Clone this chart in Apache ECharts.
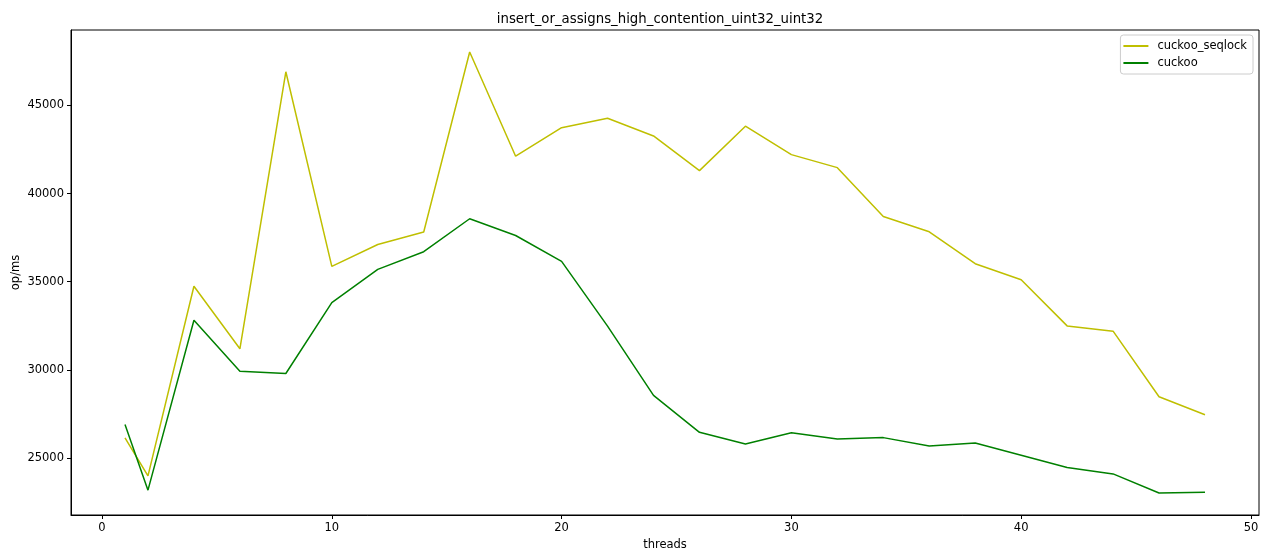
<!DOCTYPE html>
<html>
<head>
<meta charset="utf-8">
<title>insert_or_assigns_high_contention_uint32_uint32</title>
<script src="https://cdn.jsdelivr.net/npm/echarts@6/dist/echarts.min.js"></script>
<style>
  html, body { margin: 0; padding: 0; background: #fff; }
  #chart { width: 1273px; height: 556px; }
</style>
</head>
<body>
<div id="chart"></div>
<script>
// Thread counts on the x axis
const threads = [1, 2, 4, 6, 8, 10, 12, 14, 16, 18, 20, 22, 24, 26, 28, 30, 32, 34, 36, 38, 40, 42, 44, 46, 48];

// Throughput (op/ms) per implementation
const cuckooSeqlock = [26130, 23980, 34740, 31190, 46910, 35870, 37110, 37820, 48030, 42120,
  43740, 44270, 43270, 41300, 43820, 42210, 41470, 38700, 37830, 36020, 35110, 32490, 32190, 28470, 27450];
const cuckoo = [26890, 23170, 32810, 29920, 29790, 33810, 35700, 36700, 38570, 37620,
  36150, 32480, 28550, 26450, 25790, 26430, 26070, 26150, 25670, 25840, 25150, 24450, 24090, 23010, 23050];

// Tick positions
const xTicks = [0, 10, 20, 30, 40, 50];
const yTicks = [25000, 30000, 35000, 40000, 45000];

const seriesNames = ['cuckoo_seqlock', 'cuckoo'];
const seriesColors = ['#bfbf00', '#008000'];

// Axis bounds padded by 5% of the data span on each side
function padded(values) {
  const lo = Math.min(...values), hi = Math.max(...values);
  const m = (hi - lo) * 0.05;
  return [lo - m, hi + m];
}
const [xMin, xMax] = padded(threads);
const [yMin, yMax] = padded(cuckooSeqlock.concat(cuckoo));

const font = 'DejaVu Sans';
const labelSize = 11.5;
const chart = echarts.init(document.getElementById('chart'), null, { renderer: 'canvas' });

const axisCommon = {
  type: 'value',
  splitLine: { show: false },
  axisLine: { show: true, onZero: false, lineStyle: { color: '#000', width: 1 } },
  axisTick: { show: true, inside: false, length: 4, lineStyle: { color: '#000', width: 1 } },
  axisLabel: { color: '#000', fontFamily: font, fontSize: labelSize, margin: 7,
    formatter: v => String(Math.round(v)) },
  nameLocation: 'middle',
  nameTextStyle: { color: '#000', fontFamily: font, fontSize: labelSize }
};

chart.setOption({
  animation: false,
  backgroundColor: '#fff',
  title: {
    text: 'insert_or_assigns_high_contention_uint32_uint32',
    left: 655, top: 8, textAlign: 'center',
    textStyle: { color: '#000', fontFamily: font, fontSize: 13.3, fontWeight: 'normal' }
  },
  grid: {
    left: 71, right: 14, top: 30, bottom: 41,
    outerBoundsMode: 'none', containLabel: false,
    show: true, borderColor: '#000', borderWidth: 1, backgroundColor: 'transparent'
  },
  legend: {
    orient: 'vertical',
    right: 20, top: 35,
    padding: [5, 6, 5, 3],
    itemGap: 5,
    itemWidth: 25, itemHeight: 2,
    borderColor: '#cccccc', borderWidth: 1, borderRadius: 3,
    backgroundColor: 'rgba(255,255,255,0.8)',
    textStyle: { color: '#000', fontFamily: font, fontSize: labelSize, padding: [0, 0, 0, 4] },
    data: seriesNames.map(n => ({ name: n, icon: 'rect' }))
  },
  xAxis: Object.assign({}, axisCommon, {
    min: xMin, max: xMax,
    name: 'threads', nameGap: 23,
    axisTick: Object.assign({}, axisCommon.axisTick, { customValues: xTicks }),
    axisLabel: Object.assign({}, axisCommon.axisLabel, { customValues: xTicks })
  }),
  yAxis: Object.assign({}, axisCommon, {
    min: yMin, max: yMax,
    name: 'op/ms', nameGap: 49,
    nameMoveOverlap: false,
    axisTick: Object.assign({}, axisCommon.axisTick, { customValues: yTicks }),
    axisLabel: Object.assign({}, axisCommon.axisLabel, { customValues: yTicks })
  }),
  series: [cuckooSeqlock, cuckoo].map((vals, i) => ({
    name: seriesNames[i],
    type: 'line',
    showSymbol: false,
    symbol: 'none',
    color: seriesColors[i],
    lineStyle: { color: seriesColors[i], width: 1.5 },
    itemStyle: { color: seriesColors[i] },
    data: threads.map((t, k) => [t, vals[k]])
  }))
});
</script>
</body>
</html>
